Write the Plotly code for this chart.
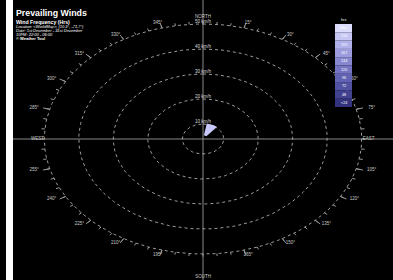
import math
import plotly.graph_objects as go

W, H = 393, 280

# ---------------- data ----------------
title_text = "Prevailing Winds"
subtitle_text = "Wind Frequency (Hrs)"
info_lines = [
    "Location: &lt;WorldMap&gt;, (10.3°, -71.7°)",
    "Date: 1st December - 31st December",
    "10PM: 22:00 - 06:00",
    "© Weather Tool",
]

ring_speeds = [10, 20, 30, 40, 50]
ring_labels = ["10 km/h", "20 km/h", "30 km/h", "40 km/h", "50 km/h"]

dir_ticks = [15, 30, 45, 60, 75, 105, 120, 135, 150, 165,
             195, 210, 225, 240, 255, 285, 300, 315, 330, 345]
dir_labels = ["15°", "30°", "45°", "60°", "75°", "105°", "120°", "135°", "150°", "165°",
              "195°", "210°", "225°", "240°", "255°", "285°", "300°", "315°", "330°", "345°"]
cardinal_dirs = [0, 90, 180, 270]
cardinal_labels = ["NORTH", "EAST", "SOUTH", "WEST"]
minor_step_deg = 5

wind_dir_from = [10]
wind_dir_to = [40]
wind_speed_from = [5.5]
wind_speed_to = [10.3]
wind_color = ["#c8c8fa"]

legend_title = "hrs"
legend_labels = ["240+", "216", "192", "167", "144", "120", "96", "72", "48", "<24"]
legend_colors = ["#dcdcfc", "#c6c6f4", "#b0b0ea", "#9b9bde", "#8787d0",
                 "#7474c2", "#6262b2", "#5252a2", "#424290", "#33337e"]

# ---------------- geometry (pixels) ----------------
CX, CY = 203, 139          # centre of the rose on the page
SX, SY = 3.45, 2.5         # pixels per km/h horizontally / vertically
V0 = 4                     # speed at the centre of the rose
LABEL_DX, LABEL_DY = 16.0, 5.0   # label gap beyond outer ring (px)
FONT = "Liberation Sans, Arial, sans-serif"
GRID = "#9c9c9c"


def px(x):
    return x / W


def py(y):
    return 1 - y / H


def pol(v, deg):
    r = v - V0
    a = math.radians(deg)
    return r * math.sin(a), r * math.cos(a)


fig = go.Figure()

# rings
for v in ring_speeds:
    xs, ys = [], []
    for d in range(0, 361, 2):
        x, y = pol(v, d)
        xs.append(x)
        ys.append(y)
    fig.add_trace(go.Scatter(x=xs, y=ys, mode="lines",
                             line=dict(color=GRID, width=1, dash="dot"),
                             hoverinfo="skip", showlegend=False))

vmax = ring_speeds[-1]
# minor ticks
xs, ys = [], []
for d in range(0, 360, minor_step_deg):
    x0, y0 = pol(vmax, d)
    x1, y1 = pol(vmax + 1.0, d)
    xs += [x0, x1, None]
    ys += [y0, y1, None]
fig.add_trace(go.Scatter(x=xs, y=ys, mode="lines", line=dict(color=GRID, width=1),
                         hoverinfo="skip", showlegend=False))
# major ticks
xs, ys = [], []
for d in dir_ticks:
    x0, y0 = pol(vmax, d)
    x1, y1 = pol(vmax + 2.0, d)
    xs += [x0, x1, None]
    ys += [y0, y1, None]
fig.add_trace(go.Scatter(x=xs, y=ys, mode="lines", line=dict(color=GRID, width=1),
                         hoverinfo="skip", showlegend=False))

# direction labels
lx, ly = [], []
for d in dir_ticks:
    ux, uy = pol(vmax, d)
    a = math.radians(d)
    lx.append(ux + LABEL_DX / SX * math.sin(a))
    ly.append(uy + LABEL_DY / SY * math.cos(a))
fig.add_trace(go.Scatter(x=lx, y=ly, mode="text", text=dir_labels,
                         textposition="middle center",
                         textfont=dict(size=4.5, color="#c8c8c8", family=FONT),
                         cliponaxis=False, hoverinfo="skip", showlegend=False))

# cardinal labels
card_offsets = [2.9, 2.0, 9.0, 2.0]
cx_, cy_ = [], []
for d, off in zip(cardinal_dirs, card_offsets):
    x, y = pol(vmax + off, d)
    cx_.append(x)
    cy_.append(y)
fig.add_trace(go.Scatter(x=cx_, y=cy_, mode="text", text=cardinal_labels,
                         textposition="middle center",
                         textfont=dict(size=4.5, color="#c8c8c8", family=FONT),
                         cliponaxis=False, hoverinfo="skip", showlegend=False))

# ring speed labels (along north)
rx, ry = [], []
for v in ring_speeds:
    x, y = pol(v, 0)
    rx.append(x)
    ry.append(y)
fig.add_trace(go.Scatter(x=rx, y=ry, mode="text", text=ring_labels,
                         textposition="top center",
                         textfont=dict(size=4.5, color="#dddddd", family=FONT),
                         cliponaxis=False, hoverinfo="skip", showlegend=False))

# wind frequency wedge
for d0, d1, s0, s1, col in zip(wind_dir_from, wind_dir_to, wind_speed_from,
                               wind_speed_to, wind_color):
    xs, ys = [], []
    n = 12
    for k in range(n + 1):
        x, y = pol(s1, d0 + (d1 - d0) * k / n)
        xs.append(x)
        ys.append(y)
    for k in range(n, -1, -1):
        x, y = pol(s0, d0 + (d1 - d0) * k / n)
        xs.append(x)
        ys.append(y)
    fig.add_trace(go.Scatter(x=xs, y=ys, mode="lines", fill="toself", fillcolor=col,
                             line=dict(width=0, color=col), hoverinfo="skip",
                             showlegend=False))

fig.update_layout(
    width=W, height=H,
    margin=dict(l=0, r=0, t=0, b=0),
    paper_bgcolor="black",
    plot_bgcolor="black",
    showlegend=False,
    hovermode=False,
    xaxis=dict(range=[-CX / SX, (W - CX) / SX], visible=False, fixedrange=True),
    yaxis=dict(range=[-(H - CY) / SY, CY / SY], visible=False, fixedrange=True),
)

shapes = [
    dict(type="rect", xref="paper", yref="paper", x0=px(6), x1=px(13), y0=0, y1=1,
         fillcolor="white", line=dict(width=0), layer="below"),
    dict(type="line", xref="paper", yref="paper", x0=px(CX), x1=px(CX), y0=0, y1=1,
         line=dict(color="#8a8a8a", width=1), layer="below"),
    dict(type="line", xref="paper", yref="paper", x0=px(13), x1=1, y0=py(CY), y1=py(CY),
         line=dict(color="#8a8a8a", width=1), layer="below"),
]

annotations = [
    dict(text="<b>" + title_text + "</b>", x=px(14), y=py(6), xref="paper", yref="paper",
         xanchor="left", yanchor="top", showarrow=False,
         font=dict(size=8.8, color="white", family=FONT)),
    dict(text="<b>" + subtitle_text + "</b>", x=px(14), y=py(16.5), xref="paper",
         yref="paper", xanchor="left", yanchor="top", showarrow=False,
         font=dict(size=5.2, color="white", family=FONT)),
]
for i, line in enumerate(info_lines):
    txt = "<b>" + line + "</b>" if i == len(info_lines) - 1 else "<i>" + line + "</i>"
    annotations.append(dict(text=txt, x=px(14), y=py(26 + 4.3 * i), xref="paper",
                            yref="paper", xanchor="left", yanchor="middle", showarrow=False,
                            font=dict(size=4.0, color="white", family=FONT)))

# legend
LX0, LX1, LY0, BOX = 335, 352, 24, 8.3
annotations.append(dict(text=legend_title, x=px((LX0 + LX1) / 2), y=py(LY0 - 3.5),
                        xref="paper", yref="paper", showarrow=False, xanchor="center",
                        yanchor="middle", font=dict(size=3.8, color="white", family=FONT)))
for i, (lab, col) in enumerate(zip(legend_labels, legend_colors)):
    y0 = LY0 + i * BOX
    shapes.append(dict(type="rect", xref="paper", yref="paper", x0=px(LX0), x1=px(LX1),
                       y0=py(y0 + BOX), y1=py(y0), fillcolor=col, line=dict(width=0)))
    annotations.append(dict(text=lab.replace("<", "&lt;"), x=px((LX0 + LX1) / 2),
                            y=py(y0 + BOX / 2), xref="paper", yref="paper",
                            showarrow=False, xanchor="center", yanchor="middle",
                            font=dict(size=3.8, color="white", family=FONT)))

fig.update_layout(shapes=shapes, annotations=annotations)
fig.write_html(
    "out.html",
    config={"displayModeBar": False, "staticPlot": True},
    post_script="document.body.style.margin='0px';document.body.style.overflow='hidden';",
)
